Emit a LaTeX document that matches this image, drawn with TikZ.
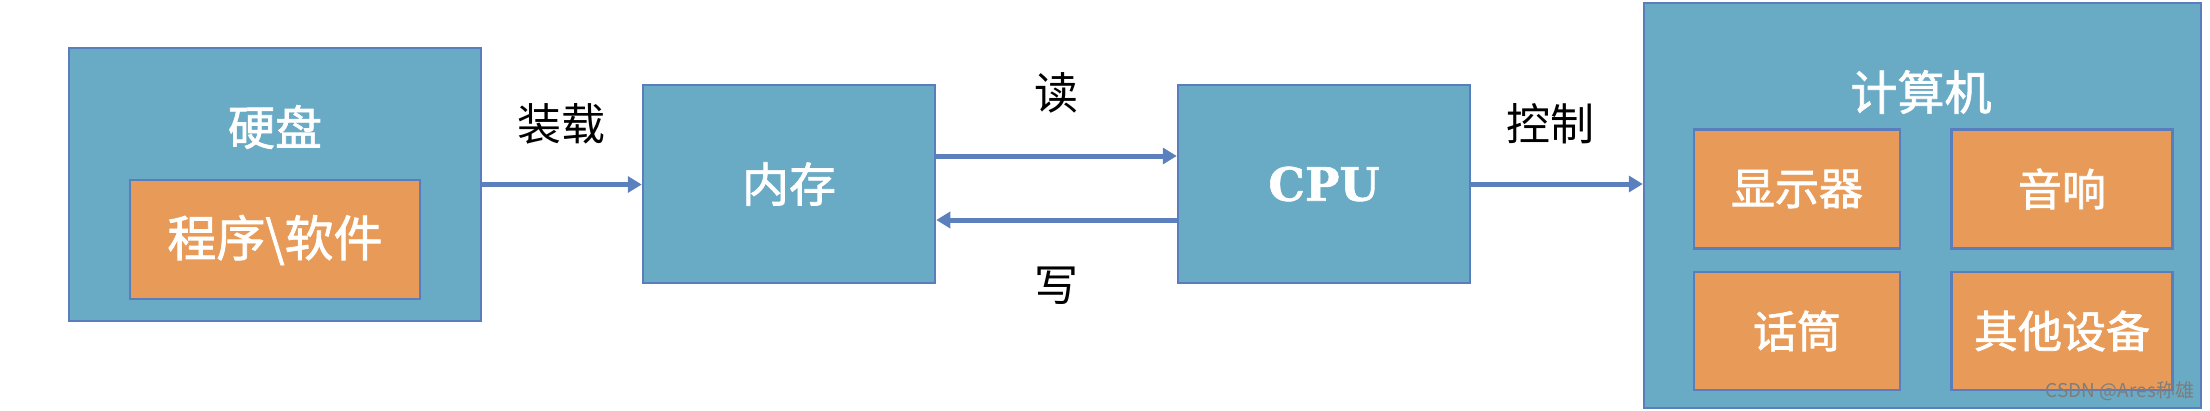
\documentclass[tikz,border=0pt]{standalone}
\usepackage{fontspec}
\newfontfamily\cjk{Noto Sans CJK SC}
\newfontfamily\cjkb{Noto Sans CJK SC}[FakeBold=1.5]
\newfontfamily\cpufont{DejaVu Serif}[FakeBold=1.2]
\usetikzlibrary{arrows.meta}
\definecolor{boxblue}{RGB}{105,170,197}
\definecolor{boxorange}{RGB}{232,155,88}
\definecolor{bordc}{RGB}{90,125,190}
\definecolor{arrc}{RGB}{92,127,189}
\definecolor{wmc}{RGB}{125,125,125}
\tikzset{
  bluebox/.style={draw=bordc, line width=2.5pt, fill=boxblue, inner sep=0pt, anchor=center},
  orangebox/.style={draw=bordc, line width=2.5pt, fill=boxorange, inner sep=0pt, anchor=center},
  wtxt/.style={text=white, inner sep=0pt, font=\cjkb\fontsize{44}{48}\selectfont},
  bigw/.style={text=white, inner sep=0pt, font=\cjkb\fontsize{47}{50}\selectfont},
  lbl/.style={text=black, inner sep=0pt, font=\cjk\fontsize{44}{48}\selectfont},
  arr/.style={draw=arrc, line width=5pt, -{Triangle[length=14pt,width=16pt]}},
  wmark/.style={text=wmc, inner sep=0pt, font=\cjk\fontsize{19}{21}\selectfont}
}
\begin{document}
\begin{tikzpicture}[x=1pt,y=-1pt]
\useasboundingbox (0,0) rectangle (2210,410);
% hard disk
\node[bluebox, minimum width=412pt, minimum height=273pt] (disk) at (275,184.5) {};
\node[orangebox, minimum width=290pt, minimum height=119pt] (prog) at (275,239.5) {};
\node[bigw] (disktxt) at (275,127) {硬盘};
\node[bigw, font=\cjkb\fontsize{49}{52}\selectfont] (progtxt) at (275,240) {程序\textbackslash 软件};
% memory
\node[bluebox, minimum width=292pt, minimum height=198pt] (mem) at (789,184) {};
\node[bigw] (memtxt) at (789,184) {内存};
% cpu
\node[bluebox, minimum width=292pt, minimum height=198pt] (cpu) at (1324,184) {};
\node[text=white, inner sep=0pt, font=\cpufont\bfseries\fontsize{46}{50}\selectfont] (cputxt) at (1324,184) {CPU};
% computer
\node[bluebox, minimum width=557pt, minimum height=405pt] (comp) at (1922.5,205.5) {};
\node[bigw] (comptxt) at (1921,92) {计算机};
\node[orangebox, minimum width=206pt, minimum height=119pt] (disp) at (1797,189) {};
\node[orangebox, minimum width=221pt, minimum height=119pt] (sound) at (2062,189) {};
\node[orangebox, minimum width=206pt, minimum height=118pt] (mic) at (1797,331) {};
\node[orangebox, minimum width=221pt, minimum height=118pt] (other) at (2062,331) {};
\node[wtxt] (disptxt) at (1797,189) {显示器};
\node[wtxt] (soundtxt) at (2062,189) {音响};
\node[wtxt] (mictxt) at (1797,331) {话筒};
\node[wtxt] (othertxt) at (2062,331) {其他设备};
% labels
\node[lbl] (load) at (561,124) {装载};
\node[lbl] (read) at (1056,93) {读};
\node[lbl] (write) at (1056,286) {写};
\node[lbl] (ctrl) at (1550,124) {控制};
% arrows
\draw[arr] (disk.east) -- (disk.east -| mem.west);
\draw[arr] ([yshift=28pt]mem.east) -- ([yshift=28pt]cpu.west);
\draw[arr] ([yshift=-36pt]cpu.west) -- ([yshift=-36pt]mem.east);
\draw[arr] (cpu.east) -- (cpu.east -| comp.west);
% watermark
\node[wmark] (wm) at (2120,391) {CSDN @Ares称雄};
\end{tikzpicture}
\end{document}
